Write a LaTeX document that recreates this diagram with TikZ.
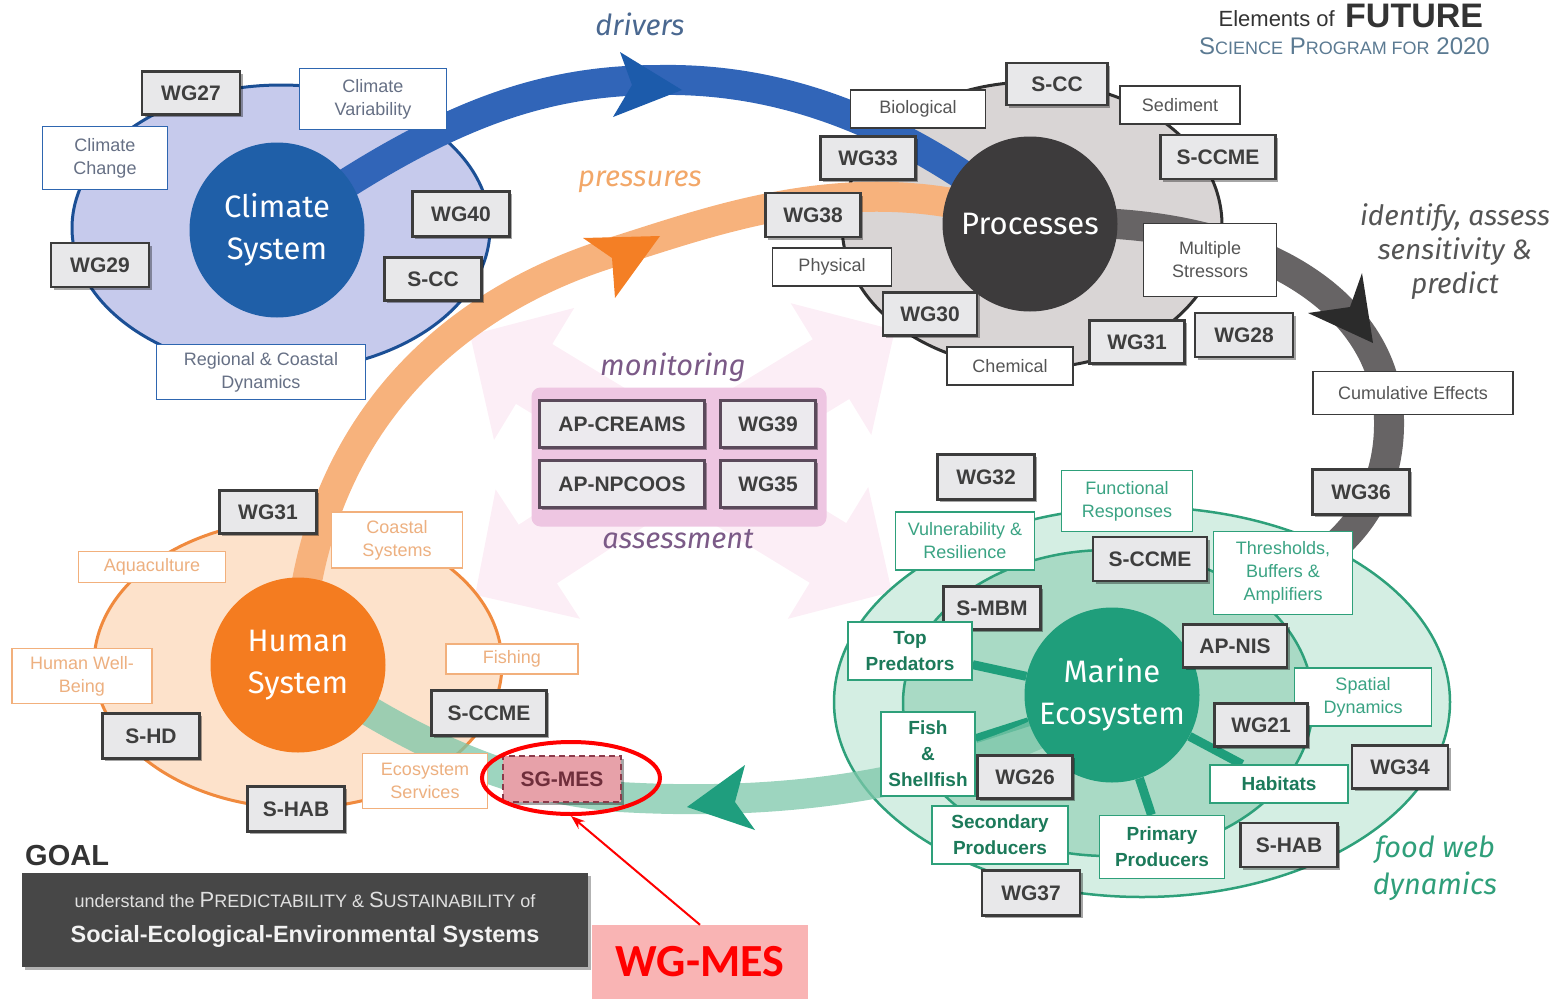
\documentclass[tikz,border=0pt]{standalone}
\usepackage{fontspec}
\setmainfont{Liberation Sans}
\newfontfamily\fira{Fira Sans}
\newfontfamily\carl{Carlito}
\usetikzlibrary{shadows,shapes.geometric,arrows.meta}
\pgfdeclarelayer{back}
\pgfdeclarelayer{mid}
\pgfsetlayers{back,mid,main}
\definecolor{gbd}{HTML}{3C3C3C}
\definecolor{gfl}{HTML}{E8E8EA}
\definecolor{gtx}{HTML}{3E3E3E}
\definecolor{cbd}{HTML}{2E66B0}
\definecolor{ctx}{HTML}{667085}
\definecolor{pbd}{HTML}{3A3A3A}
\definecolor{ptx}{HTML}{555555}
\definecolor{hbd}{HTML}{F2B07C}
\definecolor{htx}{HTML}{EDB080}
\definecolor{mbd}{HTML}{2EA07A}
\definecolor{mtx}{HTML}{3AA383}
\definecolor{mbtx}{HTML}{1C7A5A}
\definecolor{cfill}{HTML}{C6CAEC}
\definecolor{cline}{HTML}{1B4F95}
\definecolor{ccirc}{HTML}{1F5FA8}
\definecolor{pfill}{HTML}{D9D5D5}
\definecolor{pline}{HTML}{2F2F2F}
\definecolor{pcirc}{HTML}{3D3B3C}
\definecolor{hfill}{HTML}{FDE2CB}
\definecolor{hline}{HTML}{F08A3E}
\definecolor{hcirc}{HTML}{F47C20}
\definecolor{mfillo}{HTML}{D4EEE3}
\definecolor{mfilli}{HTML}{A9DAC5}
\definecolor{mline}{HTML}{2EA07A}
\definecolor{mcirc}{HTML}{1F9E7B}
\definecolor{bblue}{HTML}{3165B8}
\definecolor{ablue}{HTML}{1C5BAB}
\definecolor{borange}{HTML}{F7B27C}
\definecolor{aorange}{HTML}{F47F25}
\definecolor{bgray}{HTML}{676465}
\definecolor{agray}{HTML}{2B2B2B}
\definecolor{bgreen}{HTML}{7CC7A9}
\definecolor{agreen}{HTML}{1F9E7E}
\definecolor{pinkbg}{HTML}{FCEEF6}
\definecolor{monfill}{HTML}{EEC6E2}
\definecolor{monbd}{HTML}{5B4A5B}
\definecolor{monfl}{HTML}{ECEAEE}
\definecolor{purp}{HTML}{7B5A87}
\definecolor{goalbg}{HTML}{474747}
\definecolor{wgpink}{HTML}{F9B4B4}
\definecolor{sgfill}{HTML}{E7A1A9}
\definecolor{sgbd}{HTML}{8B3A4A}
\definecolor{titleblue}{HTML}{5B7A92}
\definecolor{drv}{HTML}{4A6890}
\definecolor{prs}{HTML}{F2A768}
\definecolor{idt}{HTML}{555555}
\definecolor{fwd}{HTML}{2F9F7A}
\tikzset{
  gbx/.style={draw=gbd, fill=gfl, line width=2.2pt, text=gtx, font=\bfseries\fontsize{21}{24}\selectfont, inner sep=0pt,
    drop shadow={shadow xshift=2.5pt, shadow yshift=-2.5pt, fill=black, opacity=.35}},
  mgbx/.style={gbx, draw=monbd, fill=monfl},
  wbx/.style={fill=white, line width=1.4pt, inner sep=0pt, align=center, font=\fontsize{18}{23}\selectfont},
  cwb/.style={wbx, draw=cbd, text=ctx},
  pwb/.style={wbx, draw=pbd, text=ptx},
  hwb/.style={wbx, draw=hbd, text=htx},
  mwb/.style={wbx, draw=mbd, text=mtx},
  mbb/.style={wbx, draw=mbd, text=mbtx, font=\bfseries\fontsize{19}{26}\selectfont},
  sz/.style n args={2}{minimum width=#1pt, minimum height=#2pt},
  circ/.style={circle, minimum size=175pt, inner sep=0pt, text=white, align=center, font=\fira\fontsize{31}{42}\selectfont},
  band/.style={line width=30pt},
  spoke/.style={line width=9pt, mcirc},
  ital/.style={font=\fira\itshape\fontsize{29}{34}\selectfont, align=center},
}
\begin{document}
\begin{tikzpicture}[x=1pt,y=-1pt]
\useasboundingbox (0,0) rectangle (1556,999);

% ---------- circles ----------
\node[circ, fill=ccirc] (clim) at (277,230) {Climate\\System};
\node[circ, fill=pcirc] (proc) at (1030,224) {Processes};
\node[circ, fill=hcirc] (human) at (298,665) {Human\\System};
\node[circ, fill=mcirc] (marine) at (1112,695) {Marine\\Ecosystem};

% ---------- monitoring box ----------
\node[fill=monfill, rounded corners=9pt, minimum width=295pt, minimum height=139pt, inner sep=0pt] (mon) at (679,457) {};
\node[mgbx, sz={165}{47}] (apc) at (622,424) {AP-CREAMS};
\node[mgbx, sz={95}{47}] (wg39) at (768,424) {WG39};
\node[mgbx, sz={165}{47}] (apn) at (622,484) {AP-NPCOOS};
\node[mgbx, sz={95}{47}] (wg35) at (768,484) {WG35};
\node[ital, text=purp] (monit) at (673,367) {monitoring};
\node[ital, text=purp] (assess) at (678,539) {assessment};

% ---------- climate boxes ----------
\node[gbx, sz={98}{43}] (cwg27) at (191,93) {WG27};
\node[cwb, sz={147}{61}] (cvar) at (373,99) {Climate\\Variability};
\node[cwb, sz={125}{63}] (cchg) at (105,158) {Climate\\Change};
\node[gbx, sz={97}{45}] (cwg40) at (461,214) {WG40};
\node[gbx, sz={97}{43}] (cscc) at (433,279) {S-CC};
\node[gbx, sz={98}{44}] (cwg29) at (100,265) {WG29};
\node[cwb, sz={209}{55}] (creg) at (261,372) {Regional \& Coastal\\Dynamics};

% ---------- processes boxes ----------
\node[gbx, sz={101}{42}] (pscc) at (1057,84) {S-CC};
\node[pwb, sz={135}{38}] (pbio) at (918,109) {Biological};
\node[pwb, sz={120}{38}] (psed) at (1180,105) {Sediment};
\node[gbx, sz={95}{43}] (pwg33) at (868,158) {WG33};
\node[gbx, sz={115}{44}] (psccme) at (1218,157) {S-CCME};
\node[gbx, sz={95}{44}] (pwg38) at (813,215) {WG38};
\node[pwb, sz={119}{38}] (pphy) at (832,267) {Physical};
\node[pwb, sz={133}{73}] (pmult) at (1210,260) {Multiple\\Stressors};
\node[gbx, sz={94}{43}] (pwg30) at (930,314) {WG30};
\node[gbx, sz={95}{43}] (pwg31) at (1137,342) {WG31};
\node[gbx, sz={98}{44}] (pwg28) at (1244,335) {WG28};
\node[pwb, sz={126}{38}] (pchem) at (1010,366) {Chemical};
\node[pwb, sz={200}{43}] (cum) at (1413,393) {Cumulative Effects};
\node[gbx, sz={97}{45}] (wg36) at (1361,492) {WG36};

% ---------- human boxes ----------
\node[gbx, sz={97}{43}] (hwg31) at (268,512) {WG31};
\node[hwb, sz={131}{56}] (hcoast) at (397,540) {Coastal\\Systems};
\node[hwb, sz={147}{31}] (haqua) at (152,567) {Aquaculture};
\node[hwb, sz={140}{55}] (hwell) at (82,676) {Human Well-\\Being};
\node[hwb, sz={132}{30}] (hfish) at (512,659) {Fishing};
\node[gbx, sz={115}{45}] (hsccme) at (489,713) {S-CCME};
\node[gbx, sz={97}{45}] (hshd) at (151,736) {S-HD};
\node[hwb, sz={125}{55}] (heco) at (425,781) {Ecosystem\\Services};
\node[gbx, sz={97}{45}] (hshab) at (296,809) {S-HAB};
\node[gbx, sz={118}{46}, fill=sgfill, draw=sgbd, dash pattern=on 6pt off 4pt, text=sgbd!80!black] (sgmes) at (562,779) {SG-MES};

% ---------- marine boxes ----------
\node[gbx, sz={97}{45}] (mwg32) at (986,477) {WG32};
\node[mwb, sz={131}{61}] (mfunc) at (1127,501) {Functional\\Responses};
\node[mwb, sz={139}{58}] (mvul) at (965,541) {Vulnerability \&\\Resilience};
\node[gbx, sz={114}{44}] (msccme) at (1150,559) {S-CCME};
\node[mwb, sz={139}{83}] (mthr) at (1283,573) {Thresholds,\\Buffers \&\\Amplifiers};
\node[gbx, sz={97}{43}] (msmbm) at (992,608) {S-MBM};
\node[mbb, sz={124}{58}] (mtop) at (910,651) {Top\\Predators};
\node[gbx, sz={104}{43}] (mapnis) at (1235,646) {AP-NIS};
\node[mwb, sz={137}{58}] (mspat) at (1363,697) {Spatial\\Dynamics};
\node[gbx, sz={93}{43}] (mwg21) at (1261,725) {WG21};
\node[mbb, sz={94}{84}] (mfish) at (928,754) {Fish\\\&\\Shellfish};
\node[gbx, sz={95}{43}] (mwg26) at (1025,777) {WG26};
\node[mbb, sz={138}{38}] (mhab) at (1279,784) {Habitats};
\node[gbx, sz={96}{43}] (mwg34) at (1400,767) {WG34};
\node[mbb, sz={136}{58}] (msec) at (1000,835) {Secondary\\Producers};
\node[mbb, sz={125}{63}] (mprim) at (1162,847) {Primary\\Producers};
\node[gbx, sz={97}{44}] (mshab) at (1289,845) {S-HAB};
\node[gbx, sz={98}{45}] (mwg37) at (1031,893) {WG37};

% ---------- labels ----------
\node[anchor=base east, inner sep=0pt, text=black!80, font=\fontsize{22}{26}\selectfont] (title1) at (1335,26) {Elements of};
\node[anchor=base west, inner sep=0pt, text=black!80, font=\bfseries\fontsize{34}{38}\selectfont] (title0) at (1345,27) {FUTURE};
\node[anchor=base east, inner sep=0pt, text=titleblue] (title2) at (1490,54)
  {\fontsize{24}{28}\selectfont S{\fontsize{18}{20}\selectfont CIENCE} P{\fontsize{18}{20}\selectfont ROGRAM FOR} 2020};
\node[ital, text=drv] (ldrv) at (640,24) {drivers};
\node[ital, text=prs] (lprs) at (640,182) {pressures};
\node[ital, text=idt, font=\fira\itshape\fontsize{28}{34}\selectfont] (lidt) at (1455,252) {identify, assess\\sensitivity \&\\predict};
\node[ital, text=fwd, font=\fira\itshape\fontsize{29}{37}\selectfont] (lfwd) at (1435,868) {food web\\dynamics};

% ---------- goal ----------
\node[anchor=base west, inner sep=0pt, text=black!80, font=\bfseries\fontsize{29}{32}\selectfont] (goal) at (25,865) {GOAL};
\node[fill=goalbg, minimum width=566pt, minimum height=94pt, inner sep=0pt,
  drop shadow={shadow xshift=3pt, shadow yshift=-3pt, fill=black, opacity=.3}] (goalbox) at (305,920) {};
\node[text=black!12, inner sep=0pt, anchor=base] (goal1) at (305,907)
  {\fontsize{18}{20}\selectfont understand the {\fontsize{22}{24}\selectfont P}REDICTABILITY \& {\fontsize{22}{24}\selectfont S}USTAINABILITY of};
\node[text=black!5, inner sep=0pt, anchor=base, font=\bfseries\fontsize{23.5}{26}\selectfont] (goal2) at (305,942)
  {Social-Ecological-Environmental Systems};

% ---------- WG-MES annotation ----------
\node[fill=wgpink, minimum width=216pt, minimum height=74pt, inner sep=0pt, text=red, font=\carl\bfseries\fontsize{46}{50}\selectfont] (wgmes) at (700,962) {WG-MES};
\node[ellipse, draw=red, line width=4pt, minimum width=178pt, minimum height=72pt, inner sep=0pt] (redell) at (571,778) {};
\draw[red, line width=2pt, -{Stealth[length=14pt,width=10pt]}] (wgmes.north) -- (redell.south);

% ---------- background layer ----------
\begin{pgfonlayer}{back}
  \coordinate (mc) at (679,462);
  \coordinate (tnw) at (470,335);
  \coordinate (tne) at (895,330);
  \coordinate (tsw) at (475,595);
  \coordinate (tse) at (892,592);
  \foreach \t in {tnw,tne,tsw,tse}
    \draw[pinkbg, line width=70pt, -{Triangle[width=150pt,length=75pt]}] (mc) -- (\t);
  \draw[fill=cfill, draw=cline, line width=3pt] (281,228) ellipse [x radius=209pt, y radius=143pt];
  \draw[fill=pfill, draw=pline, line width=3pt] (1032,225) ellipse [x radius=190pt, y radius=143pt];
  \draw[fill=hfill, draw=hline, line width=3pt] (298,664) ellipse [x radius=204pt, y radius=144pt];
  \draw[fill=mfillo, draw=mline, line width=2.5pt] (1142,702) ellipse [x radius=308pt, y radius=195pt];
  \draw[fill=mfilli, draw=mline, line width=2.5pt] (1108,703) ellipse [x radius=205pt, y radius=153pt];
\end{pgfonlayer}

% ---------- middle layer ----------
\begin{pgfonlayer}{mid}
  \draw[spoke] (marine) -- (mtop);
  \draw[spoke] (marine) -- (mfish);
  \draw[spoke] (marine) -- (mhab);
  \draw[spoke] (marine) -- (mprim);
  \draw[band, borange] (human.center) .. controls (305,430) and (450,300) .. (620,250)
     .. controls (730,215) and (870,165) .. (proc.center);
  \draw[band, bblue] (clim.center) .. controls (440,115) and (540,80) .. (660,80)
     .. controls (780,78) and (900,120) .. (proc.center);
  \coordinate (gend) at (1333,548);
  \draw[band, bgray] (proc.center) .. controls (1250,210) and (1388,300) .. (1389,420)
     .. controls (1390,480) and (1365,520) .. (gend);
  \draw[band, bgreen, opacity=.75] (marine.center) .. controls (950,795) and (760,805) .. (620,797)
     .. controls (520,790) and (420,750) .. (human.center);
  \fill[ablue] (682,90) -- (620,52) -- (632,85) -- (613,117) -- cycle;
  \fill[aorange] (660,236) -- (583,238) -- (612,258) -- (615,298) -- cycle;
  \fill[agray] (1373,343) -- (1362,273) -- (1350,307) -- (1308,313) -- cycle;
  \fill[agreen] (687,807) -- (745,765) -- (735,802) -- (755,830) -- cycle;
\end{pgfonlayer}
\end{tikzpicture}
\end{document}
